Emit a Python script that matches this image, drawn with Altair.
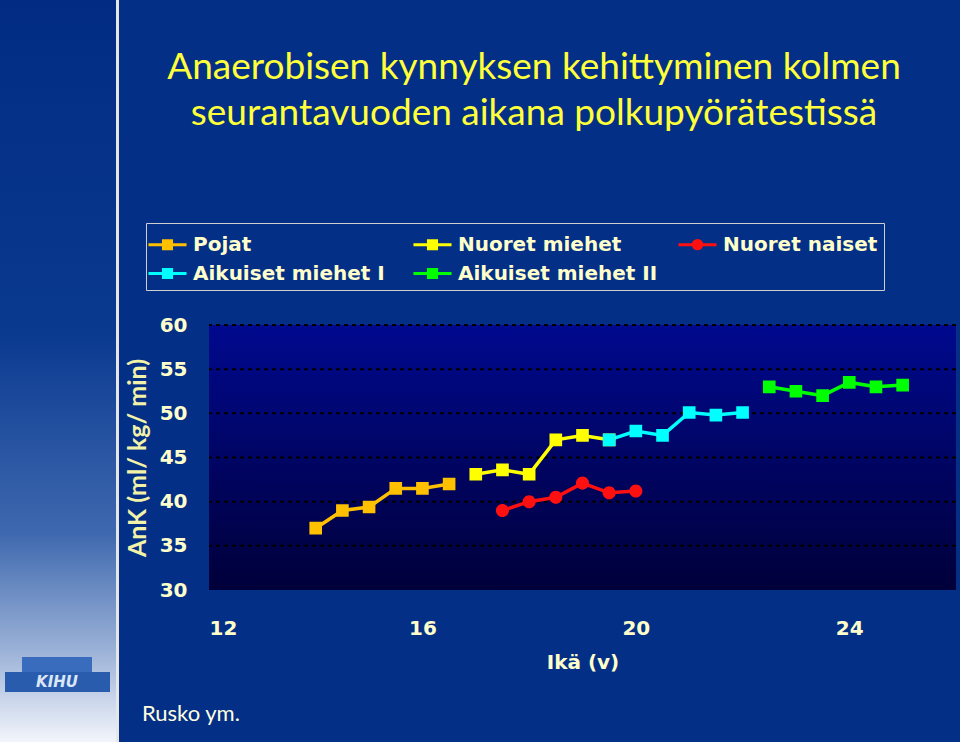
import altair as alt
import pandas as pd

# ---------------- data ----------------
series_names = ["Pojat", "Nuoret miehet", "Nuoret naiset", "Aikuiset miehet I", "Aikuiset miehet II"]
series_colors = ["#FFC000", "#FFFF00", "#FF1010", "#00FFFF", "#00FF00"]

pojat_age = [14.0, 14.5, 15.0, 15.5, 16.0, 16.5]
pojat_ank = [37.0, 39.0, 39.4, 41.5, 41.5, 42.0]

nuoret_miehet_age = [17.0, 17.5, 18.0, 18.5, 19.0, 19.5]
nuoret_miehet_ank = [43.1, 43.6, 43.1, 47.0, 47.5, 47.0]

nuoret_naiset_age = [17.5, 18.0, 18.5, 19.0, 19.5, 20.0]
nuoret_naiset_ank = [39.0, 40.0, 40.5, 42.1, 41.0, 41.2]

aikuiset1_age = [19.5, 20.0, 20.5, 21.0, 21.5, 22.0]
aikuiset1_ank = [47.0, 48.0, 47.5, 50.1, 49.8, 50.1]

aikuiset2_age = [22.5, 23.0, 23.5, 24.0, 24.5, 25.0]
aikuiset2_ank = [53.0, 52.5, 52.0, 53.5, 53.0, 53.2]

x_ticks = [12, 16, 20, 24]
y_ticks = [30, 35, 40, 45, 50, 55, 60]
grid_values = [35, 40, 45, 50, 55, 60]

title_lines = ["Anaerobisen kynnyksen kehittyminen kolmen",
               "seurantavuoden aikana polkupyörätestissä"]
source_text = "Rusko ym."
logo_text = "KIHU"

# ---------------- table ----------------
ages = [pojat_age, nuoret_miehet_age, nuoret_naiset_age, aikuiset1_age, aikuiset2_age]
vals = [pojat_ank, nuoret_miehet_ank, nuoret_naiset_ank, aikuiset1_ank, aikuiset2_ank]
rows = []
for name, xs, ys in zip(series_names, ages, vals):
    for a, v in zip(xs, ys):
        rows.append({"series": name, "age": a, "ank": v})
df = pd.DataFrame(rows)

BG = "#042f86"
TXT = "#FFFFCC"

# symbols: line segment + square / circle (line part has no area -> invisible when only filled)
SQ = "M-1.36,0H1.36M-0.29,-0.29H0.29V0.29H-0.29Z"
CI = "M-1.36,0H1.36M0.3,0A0.3,0.3,0,1,1,-0.3,0A0.3,0.3,0,1,1,0.3,0Z"
shape_paths = [SQ, SQ, CI, SQ, SQ]

x_scale = alt.Scale(domain=[12, 26], nice=False, zero=False)
y_scale = alt.Scale(domain=[30, 60], nice=False, zero=False)

x_axis = alt.Axis(values=x_ticks, title="Ikä (v)", grid=False, domain=False, ticks=False,
                  tickSize=0, labelPadding=28, labelFont="DejaVu Sans", labelFontWeight="bold",
                  labelFontSize=20, labelColor=TXT, titleFont="DejaVu Sans", titleFontWeight="bold",
                  titleFontSize=20, titleColor=TXT, titlePadding=14)
y_axis = alt.Axis(values=y_ticks, title="AnK (ml/ kg/ min)", grid=False, domain=False, ticks=False,
                  tickSize=0, labelPadding=22, labelFont="DejaVu Sans", labelFontWeight="bold",
                  labelFontSize=20, labelColor=TXT, titleFont="Lato", titleFontWeight="bold",
                  titleFontSize=25, titleColor="#F2F2A8", titlePadding=9)

legend = alt.Legend(
    title=None, orient="none", legendX=-63, legendY=-102, columns=3, direction="horizontal",
    gridAlign="all", columnPadding=14, rowPadding=3, padding=6, symbolSize=784, labelOffset=10,
    labelFont="DejaVu Sans", labelFontWeight="bold", labelFontSize=20, labelColor=TXT,
    labelLimit=400, fillColor=BG, strokeColor="#cfcfcf", symbolOpacity=1,
    symbolStrokeWidth=3,
)

color_scale = alt.Scale(domain=series_names, range=series_colors)

one = pd.DataFrame({"k": [0]})

# left decorative strip
strip = alt.Chart(one).mark_rect(
    color=alt.LinearGradient(gradient="linear", x1=0, x2=0, y1=0, y2=1, stops=[
        alt.GradientStop(offset=0, color="#022c83"),
        alt.GradientStop(offset=0.45, color="#0a3990"),
        alt.GradientStop(offset=0.72, color="#3f69af"),
        alt.GradientStop(offset=0.88, color="#9db3d8"),
        alt.GradientStop(offset=1, color="#f2f5fb")])
).encode(x=alt.value(-209), x2=alt.value(-93), y=alt.value(-325), y2=alt.value(417))

sep = alt.Chart(one).mark_rule(color="#e6e6e6", strokeWidth=3).encode(
    x=alt.value(-91.5), y=alt.value(-325), y2=alt.value(417))

logo_base = alt.Chart(one).mark_rect(color="#2a5cae").encode(
    x=alt.value(-204), x2=alt.value(-99), y=alt.value(347), y2=alt.value(367))
logo_top = alt.Chart(one).mark_rect(color="#3a6cbd").encode(
    x=alt.value(-187), x2=alt.value(-117), y=alt.value(332), y2=alt.value(347))
logo_txt = alt.Chart(one).mark_text(text=logo_text, font="DejaVu Sans", fontStyle="italic",
                                    fontWeight="bold", fontSize=15, color="#dbe6f7").encode(
    x=alt.value(-152), y=alt.value(357))

# plot background gradient
plot_bg = alt.Chart(one).mark_rect(
    color=alt.LinearGradient(gradient="linear", x1=0, x2=0, y1=0, y2=1, stops=[
        alt.GradientStop(offset=0, color="#00098e"),
        alt.GradientStop(offset=1, color="#00003a")])
).encode(x=alt.value(0), x2=alt.value(747), y=alt.value(0), y2=alt.value(265))

grid = alt.Chart(pd.DataFrame({"v": grid_values})).mark_rule(
    color="#000000", strokeWidth=2, strokeDash=[4, 4]).encode(
    y=alt.Y("v:Q", scale=y_scale, axis=y_axis))

lines = alt.Chart(df).mark_line(strokeWidth=3.5).encode(
    x=alt.X("age:Q", scale=x_scale, axis=x_axis),
    y=alt.Y("ank:Q", scale=y_scale, axis=y_axis),
    color=alt.Color("series:N", scale=color_scale, legend=legend),
    order=alt.Order("age:Q"))

points = alt.Chart(df).mark_point(filled=True, size=1900, opacity=1, strokeWidth=0).encode(
    x=alt.X("age:Q", scale=x_scale, axis=x_axis),
    y=alt.Y("ank:Q", scale=y_scale, axis=y_axis),
    color=alt.Color("series:N", scale=color_scale, legend=legend),
    stroke=alt.Stroke("series:N", scale=color_scale, legend=legend),
    shape=alt.Shape("series:N", scale=alt.Scale(domain=series_names, range=shape_paths), legend=legend))

title = alt.Chart(one).mark_text(text=title_lines, font="Lato", fontSize=37, color="#FFFF3A",
                                 align="center", baseline="alphabetic", lineHeight=46).encode(
    x=alt.value(325), y=alt.value(-246))

source = alt.Chart(one).mark_text(text=source_text, font="Lato", fontSize=22, color="#FFFFE0",
                                  align="left", baseline="alphabetic").encode(
    x=alt.value(-67), y=alt.value(396))

chart = alt.layer(strip, sep, logo_base, logo_top, logo_txt, plot_bg, grid, lines, points,
                  title, source).properties(
    width=747, height=265,
    padding={"left": 209, "top": 325, "right": 4, "bottom": 152},
    autosize=alt.AutoSizeParams(type="none"),
    background=BG,
).configure_view(stroke=None)

chart.save("out.html", embed_options={"renderer": "svg", "actions": False})
